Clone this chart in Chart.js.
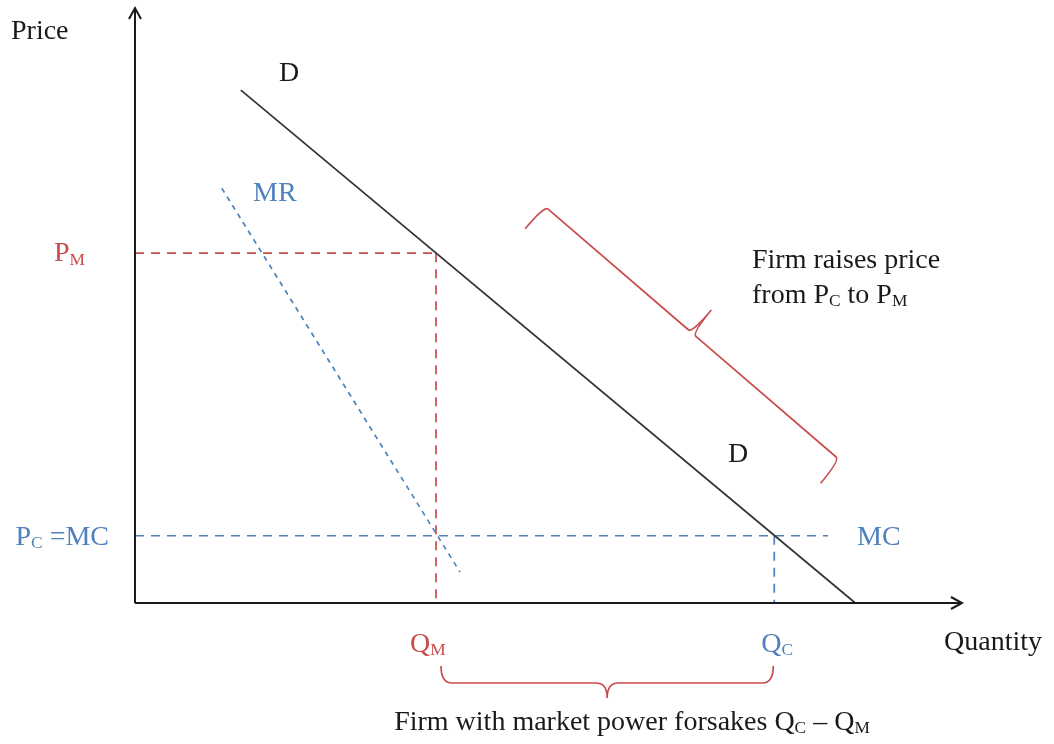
<!DOCTYPE html>
<html>
<head>
<meta charset="utf-8">
<script src="https://cdn.jsdelivr.net/npm/chart.js@4.4.0/dist/chart.umd.min.js"></script>
<style>
html, body { margin: 0; padding: 0; background: #fff; }
#wrap { width: 1054px; height: 744px; position: relative; }
</style>
</head>
<body>
<div id="wrap"><canvas id="econchart"></canvas></div>
<script>
// quantity / price units, both axes run 0..10
var demandQ = [1.28, 8.71];
var demandP = [8.62, 0];
var mrQ = [1.05, 3.93];
var mrP = [6.97, 0.52];
var monoQ = 3.64, monoP = 5.88;   // Q_M, P_M
var compQ = 7.73, compP = 1.13;   // Q_C, P_C = MC
var mcEndQ = 8.38;
var axisMax = 10;

var RED = '#c94c4c';
var BLUE = '#4f81bd';
var INK = '#1a1a1a';
var FONT = "'Liberation Serif', 'Times New Roman', serif";

function seg(q, p) {
    return q.map(function (v, i) { return { x: v, y: p[i] }; });
}

function dashed(data, color, dash) {
    return {
        data: data,
        showLine: true,
        borderColor: color,
        borderWidth: 1.7,
        borderDash: dash || [9, 7],
        pointRadius: 0,
        clip: false
    };
}

// text with subscripts: parts = [[text, isSub], ...]
function rich(ctx, parts, x, y, color, size, align) {
    var total = 0;
    parts.forEach(function (p) {
        ctx.font = (p[1] ? size * 0.62 : size) + 'px ' + FONT;
        total += ctx.measureText(p[0]).width;
    });
    if (align === 'right') x -= total;
    if (align === 'center') x -= total / 2;
    ctx.fillStyle = color;
    ctx.textAlign = 'left';
    ctx.textBaseline = 'alphabetic';
    parts.forEach(function (p) {
        ctx.font = (p[1] ? size * 0.62 : size) + 'px ' + FONT;
        ctx.fillText(p[0], x, p[1] ? y + size * 0.12 : y);
        x += ctx.measureText(p[0]).width;
    });
}

// curly brace: a,b are the corners, n the outward normal
function brace(ctx, a, b, n, hook, tip, r) {
    var dx = b.x - a.x, dy = b.y - a.y, len = Math.hypot(dx, dy);
    var u = { x: dx / len, y: dy / len };
    var m = { x: (a.x + b.x) / 2, y: (a.y + b.y) / 2 };
    ctx.beginPath();
    ctx.moveTo(a.x - n.x * hook, a.y - n.y * hook);
    ctx.quadraticCurveTo(a.x, a.y, a.x + u.x * r, a.y + u.y * r);
    ctx.lineTo(m.x - u.x * r, m.y - u.y * r);
    ctx.quadraticCurveTo(m.x, m.y, m.x + n.x * tip, m.y + n.y * tip);
    ctx.quadraticCurveTo(m.x, m.y, m.x + u.x * r, m.y + u.y * r);
    ctx.lineTo(b.x - u.x * r, b.y - u.y * r);
    ctx.quadraticCurveTo(b.x, b.y, b.x - n.x * hook, b.y - n.y * hook);
    ctx.stroke();
}

var decor = {
    id: 'decor',
    afterDatasetsDraw: function (chart) {
        var ctx = chart.ctx;
        var xs = chart.scales.x, ys = chart.scales.y;
        var X = function (v) { return xs.getPixelForValue(v); };
        var Y = function (v) { return ys.getPixelForValue(v); };
        var ox = X(0), oy = Y(0), tx = X(axisMax), ty = Y(axisMax);
        ctx.save();

        // axes with open arrow heads
        ctx.strokeStyle = INK;
        ctx.lineWidth = 2;
        ctx.beginPath();
        ctx.moveTo(ox, oy); ctx.lineTo(ox, ty);
        ctx.moveTo(ox, oy); ctx.lineTo(tx, oy);
        ctx.moveTo(ox - 6, ty + 11); ctx.lineTo(ox, ty); ctx.lineTo(ox + 6, ty + 11);
        ctx.moveTo(tx - 11, oy - 6); ctx.lineTo(tx, oy); ctx.lineTo(tx - 11, oy + 6);
        ctx.stroke();

        // brace along the demand curve, ending level with the competitive point
        var d0 = { x: X(demandQ[0]), y: Y(demandP[0]) };
        var d1 = { x: X(demandQ[1]), y: Y(demandP[1]) };
        var L = Math.hypot(d1.x - d0.x, d1.y - d0.y);
        var u = { x: (d1.x - d0.x) / L, y: (d1.y - d0.y) / L };
        var n = { x: -u.y, y: u.x };
        if (n.y > 0) { n.x = -n.x; n.y = -n.y; }
        var cp = { x: X(compQ), y: Y(compP) };
        var b = { x: cp.x + n.x * 100 + u.x * 2, y: cp.y + n.y * 100 + u.y * 2 };
        var a = { x: b.x - u.x * 390 + n.x * 6, y: b.y - u.y * 390 + n.y * 6 };
        ctx.strokeStyle = RED;
        ctx.lineWidth = 1.7;
        brace(ctx, a, b, n, 30, 30, 5);

        // brace under the quantity axis from Q_M to Q_C
        brace(ctx, { x: X(monoQ) + 5, y: oy + 80 }, { x: X(compQ) - 1, y: oy + 80 },
              { x: 0, y: 1 }, 17, 15, 11);

        // labels
        var S = 28;
        rich(ctx, [['Price']], 11, 39, INK, S);
        rich(ctx, [['D']], 279, 81, INK, S);
        rich(ctx, [['D']], 728, 462, INK, S);
        rich(ctx, [['MR']], 253, 201, BLUE, S);
        rich(ctx, [['P'], ['M', true]], ox - 50, Y(monoP) + 8, RED, S, 'right');
        rich(ctx, [['P'], ['C', true], [' =MC']], ox - 26, Y(compP) + 9, BLUE, S, 'right');
        rich(ctx, [['MC']], X(mcEndQ) + 29, Y(compP) + 9, BLUE, S);
        rich(ctx, [['Firm raises price']], 752, 268, INK, S);
        rich(ctx, [['from P'], ['C', true], [' to P'], ['M', true]], 752, 303, INK, S);
        rich(ctx, [['Q'], ['M', true]], X(monoQ) - 26, oy + 49, RED, S);
        rich(ctx, [['Q'], ['C', true]], X(compQ) - 13, oy + 49, BLUE, S);
        rich(ctx, [['Quantity']], 944, oy + 47, INK, S);
        rich(ctx, [['Firm with market power forsakes Q'], ['C', true], [' \u2013 Q'], ['M', true]],
             632, oy + 127, INK, S, 'center');
        ctx.restore();
    }
};

new Chart(document.getElementById('econchart').getContext('2d'), {
    type: 'scatter',
    data: {
        datasets: [
            {
                data: seg(demandQ, demandP),
                showLine: true,
                borderColor: '#333333',
                borderWidth: 1.7,
                pointRadius: 0,
                clip: false
            },
            dashed(seg(mrQ, mrP), BLUE, [5, 5]),
            dashed([{ x: 0, y: monoP }, { x: monoQ, y: monoP }], RED),
            dashed([{ x: monoQ, y: monoP }, { x: monoQ, y: 0 }], RED),
            dashed([{ x: 0, y: compP }, { x: mcEndQ, y: compP }], BLUE),
            dashed([{ x: compQ, y: compP }, { x: compQ, y: 0 }], BLUE)
        ]
    },
    options: {
        responsive: true,
        maintainAspectRatio: false,
        animation: false,
        layout: { padding: { left: 135, right: 92, top: 8, bottom: 141 } },
        scales: {
            x: { type: 'linear', min: 0, max: axisMax, display: false },
            y: { type: 'linear', min: 0, max: axisMax, display: false }
        },
        plugins: {
            legend: { display: false },
            tooltip: { enabled: false }
        }
    },
    plugins: [decor]
});
</script>
</body>
</html>
